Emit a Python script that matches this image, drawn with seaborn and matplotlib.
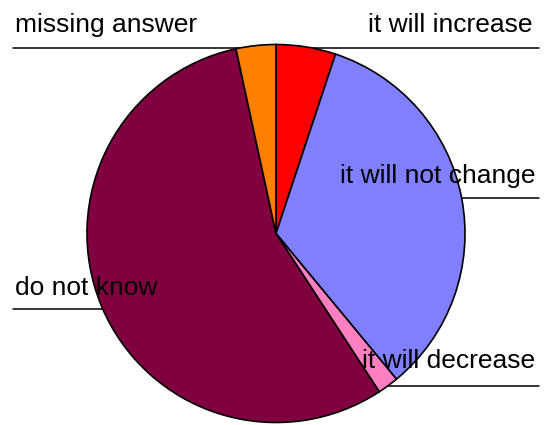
import matplotlib
matplotlib.use("Agg")
import matplotlib.pyplot as plt
import seaborn as sns

# share of answers, clockwise from 12 o'clock
answers = ["it will increase", "it will not change", "it will decrease", "do not know", "missing answer"]
shares = [5.1, 33.9, 1.8, 55.8, 3.4]
colors = ["#FF0000", "#8080FF", "#FF80C0", "#800040", "#FF8000"]

sns.set_theme(style="white")
plt.rcParams["font.family"] = ["Liberation Sans", "DejaVu Sans"]

W, H = 546, 425
fig = plt.figure(figsize=(W / 100, H / 100), dpi=100)
ax = fig.add_axes([0, 0, 1, 1])

ax.pie(shares, colors=colors, startangle=90, counterclock=False,
       center=(276, H - 233.5), radius=189,
       wedgeprops={"edgecolor": "black", "linewidth": 1.2})

# label text (x, baseline y from top, alignment) and leader line (x0, x1, y from top)
layout = {
    "it will increase": ((532, 32, "right"), (276, 539, 47.5)),
    "missing answer": ((15, 32, "left"), (13, 276, 47.5)),
    "it will not change": ((535, 183, "right"), (455, 539, 198)),
    "do not know": ((15, 295, "left"), (13, 110, 309)),
    "it will decrease": ((535, 368, "right"), (385, 539, 386)),
}
for name in answers:
    (tx, ty, ha), (x0, x1, ly) = layout[name]
    ax.plot([x0, x1], [H - ly, H - ly], color="black", lw=1.1, zorder=0)
    ax.text(tx, H - ty, name, ha=ha, va="baseline", fontsize=19, color="black", zorder=5)

ax.set_xlim(0, W)
ax.set_ylim(0, H)
ax.set_aspect("equal")
ax.axis("off")

fig.savefig("out.png", dpi=100)
